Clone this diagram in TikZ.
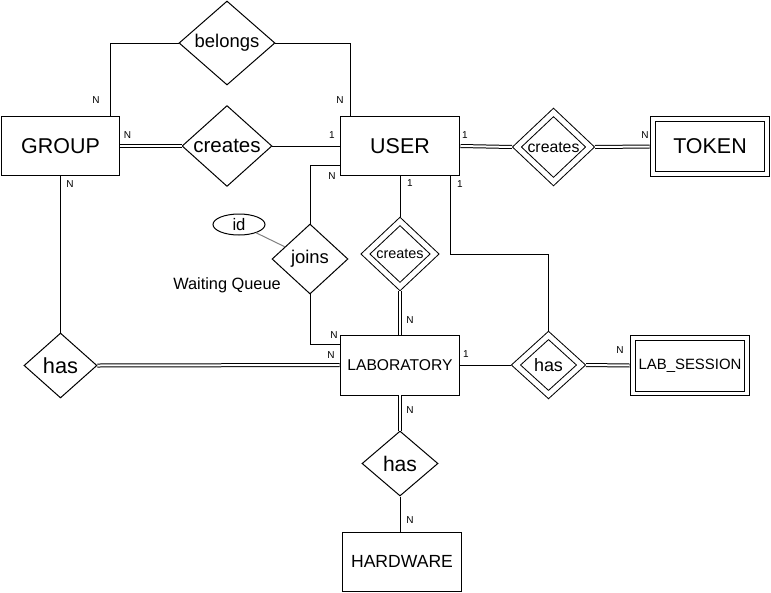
\documentclass[tikz,border=0pt]{standalone}
\usepackage{fontspec}
\setmainfont{Liberation Sans}
\usetikzlibrary{shapes.geometric}
\tikzset{
  entity/.style={draw, rectangle, minimum width=2.4cm, minimum height=1.2cm, inner sep=0pt},
  weakentity/.style={entity, double, double distance=0.8mm, outer sep=0.6mm,
    minimum width=2.3cm, minimum height=1.12cm},
  rel/.style={draw, diamond, inner sep=0pt},
  weakrel/.style={rel, double, double distance=1mm, outer sep=0.7mm},
  card/.style={inner sep=0pt, font=\fontsize{5.7}{6}\selectfont},
  dbl/.style={double, double distance=0.4mm},
}

\begin{document}
\begin{tikzpicture}[x=0.02cm, y=-0.02cm, line width=0.2mm]
\useasboundingbox (0,0) rectangle (771,592);

% entities
\node[entity, minimum width=2.38cm, font=\fontsize{12.2}{14}\selectfont] (group) at (60.5,146) {GROUP};
\node[entity, font=\fontsize{12.2}{14}\selectfont] (user) at (400,146) {USER};
\node[weakentity, font=\fontsize{12.2}{14}\selectfont] (token) at (710,146.5) {TOKEN};
\node[entity, font=\fontsize{8.9}{10}\selectfont] (lab) at (400,365) {LABORATORY};
\node[weakentity, font=\fontsize{8.5}{10}\selectfont] (labsession) at (690,365.5) {LAB\_SESSION};
\node[entity, minimum height=1.18cm, font=\fontsize{10}{12}\selectfont] (hardware) at (402,561.5) {HARDWARE};

% relationships
\node[rel, minimum width=1.92cm, minimum height=1.68cm, font=\fontsize{10.5}{12}\selectfont] (belongs) at (227,43) {belongs};
\node[rel, minimum width=1.8cm, minimum height=1.54cm, font=\fontsize{11.7}{13}\selectfont] (creategu) at (227,146) {creates};
\node[weakrel, minimum width=1.52cm, minimum height=1.44cm, font=\fontsize{9}{11}\selectfont] (createut) at (553.5,147) {creates};
\node[rel, minimum width=1.52cm, minimum height=1.4cm, font=\fontsize{10.5}{12}\selectfont] (joins) at (310,259) {joins};
\node[weakrel, minimum width=1.44cm, minimum height=1.36cm, font=\fontsize{8.2}{10}\selectfont] (createul) at (400,254) {creates};
\node[rel, minimum width=1.46cm, minimum height=1.3cm, font=\fontsize{12.4}{14}\selectfont] (hasgl) at (60.5,365.5) {has};
\node[weakrel, minimum width=1.36cm, minimum height=1.24cm, font=\fontsize{10.2}{12}\selectfont] (hasls) at (548.5,365) {has};
\node[rel, minimum width=1.52cm, minimum height=1.3cm, font=\fontsize{12}{14}\selectfont] (hashw) at (400,463.5) {has};

% attribute and note
\node[draw, ellipse, minimum width=1.04cm, minimum height=0.42cm, inner sep=0pt,
      font=\fontsize{9.5}{11}\selectfont] (id) at (239,224.5) {id};
\node[font=\fontsize{9.3}{11}\selectfont] (queue) at (227,285) {Waiting Queue};

% connectors
\draw ([xshift=-0.2cm]group.north east) |- (belongs.west);
\draw (belongs.east) -| ([xshift=-1cm]user.north);
\draw[dbl] (group.east) -- (creategu.west);
\draw (creategu.east) -- (user.west);
\draw (group.south) -- (hasgl.north);
\draw[dbl] (hasgl.east) -- (lab.west);
\draw (joins.north) |- ([yshift=0.22cm]user.south west);
\draw (joins.south) |- ([yshift=-0.2cm]lab.north west);
\draw[gray] (id) -- (joins);
\draw (user.south) -- (createul.north);
\draw[dbl] (createul.south) -- (lab.north);
\draw ([xshift=-0.2cm]user.south east) -- ++(0,78) -| (hasls.north);
\draw (lab.east) -- (hasls.west);
\draw[dbl] (hasls.east) -- (labsession.west);
\draw[dbl] (user.east) -- (createut.west);
\draw[dbl] (createut.east) -- (token.west);
\draw[dbl] (lab.south) -- (hashw.north);
\draw (hashw.south) -- (hashw.south |- hardware.north);

% cardinalities
\node[card] (c1) at (96,100) {N};
\node[card] (c2) at (340,100) {N};
\node[card] (c3) at (127.5,135) {N};
\node[card] (c4) at (332,135) {1};
\node[card] (c5) at (70,184) {N};
\node[card] (c6) at (332,176) {N};
\node[card] (c7) at (410,183) {1};
\node[card] (c8) at (460,184) {1};
\node[card] (c9) at (465,135) {1};
\node[card] (c10) at (645,135) {N};
\node[card] (c11) at (410,320) {N};
\node[card] (c12) at (334,335) {N};
\node[card] (c13) at (331,355) {N};
\node[card] (c14) at (466,354) {1};
\node[card] (c15) at (620,350) {N};
\node[card] (c16) at (410,410) {N};
\node[card] (c17) at (410,520) {N};
\end{tikzpicture}
\end{document}
